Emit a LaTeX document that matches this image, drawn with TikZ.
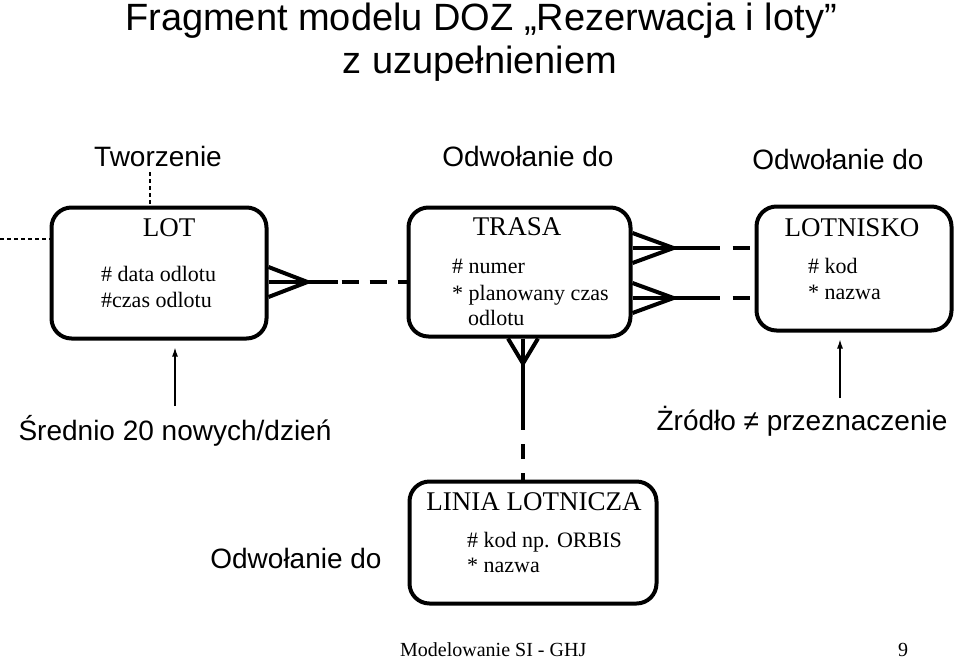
\documentclass[tikz,border=0pt]{standalone}
\usepackage{fontspec}
\setmainfont{Liberation Serif}
\newfontfamily\labfont{Liberation Sans}
\usetikzlibrary{calc,arrows.meta}
\begin{document}
\begin{tikzpicture}[x=1pt,y=-1pt,
  ent/.style={draw, line width=4pt, rounded corners=20pt, inner sep=0pt},
  conn/.style={line width=4pt},
  enttitle/.style={anchor=base, inner sep=0pt, font=\fontsize{27}{27}\selectfont},
  attr/.style={anchor=base west, inner sep=0pt, font=\fontsize{22}{22}\selectfont},
  lab/.style={anchor=base, inner sep=0pt, font=\labfont\fontsize{28}{28}\selectfont},
  note/.style={line width=1.2pt, -{Latex[length=9pt,width=6pt]}},
  thindash/.style={line width=1.2pt, dash pattern=on 4pt off 3pt}]
\useasboundingbox (0,0) rectangle (960,662);

% titles
\node[anchor=base, inner sep=0pt, font=\labfont\fontsize{38}{38}\selectfont] (t1) at (481,30) {Fragment modelu DOZ „Rezerwacja i loty”};
\node[anchor=base, inner sep=0pt, font=\labfont\fontsize{38}{38}\selectfont] (t2) at (480,73) {z uzupełnieniem};

% entities
\node[ent, minimum width=215pt, minimum height=131pt] (lot) at (159,273) {};
\node[ent, minimum width=222pt, minimum height=129pt] (trasa) at (519.5,272) {};
\node[ent, minimum width=195pt, minimum height=124pt] (lotnisko) at (854,268.5) {};
\node[ent, minimum width=247pt, minimum height=122pt] (linia) at (533,542.5) {};

% entity texts
\node[enttitle] (lotT) at (169,236) {LOT};
\node[attr] (lotA1) at (101,281) {\# data odlotu};
\node[attr] (lotA2) at (101,307) {\#czas odlotu};

\node[enttitle] (trT) at (517,235) {TRASA};
\node[attr] (trA1) at (452,273) {\# numer};
\node[attr] (trA2) at (452,300) {* planowany czas};
\node[attr] (trA3) at (468,325) {odlotu};

\node[enttitle] (lnT) at (852,236) {LOTNISKO};
\node[attr] (lnA1) at (808,273) {\# kod};
\node[attr] (lnA2) at (808,299) {* nazwa};

\node[enttitle] (liT) at (534,510) {LINIA LOTNICZA};
\node[attr] (liA1) at (467,547) {\# kod np. ORBIS};
\node[attr] (liA2) at (467,572) {* nazwa};

% labels
\node[lab] (tw) at (158,166) {Tworzenie};
\node[lab] (od1) at (528,166) {Odwołanie do};
\node[lab] (od2) at (838,169) {Odwołanie do};
\node[lab] (sr) at (175,440) {Średnio 20 nowych/dzień};
\node[lab] (zr) at (802,430) {Żródło ≠ przeznaczenie};
\node[lab] (od3) at (296,568) {Odwołanie do};

% footer
\node[anchor=base west, inner sep=0pt, font=\fontsize{20}{20}\selectfont] (foot) at (400,656) {Modelowanie SI - GHJ};
\node[anchor=base, inner sep=0pt, font=\fontsize{20}{20}\selectfont] (page) at (903,656) {9};

% thin dashed lines at LOT
\coordinate (twx) at (150,172);
\draw[thindash] (twx) -- (twx |- lot.north);
\coordinate (lx) at (0,239);
\draw[thindash] (lx) -- (lx -| lot.west);

% note arrows
\coordinate (n1) at (175,406);
\draw[note] (n1) -- ($(n1 |- lot.south)+(0,7)$);
\coordinate (n2) at (840,398);
\draw[note] (n2) -- ($(n2 |- lotnisko.south)+(0,7)$);

% LOT - TRASA
\coordinate (y1) at (0,282);
\coordinate (a1) at (lot.east |- y1);
\coordinate (b1) at (trasa.west |- y1);
\coordinate (k1) at ($(a1)+(39,0)$);
\draw[conn] (a1) -- (k1);
\draw[conn] ($(a1)+(0,-15)$) -- (k1) -- ($(a1)+(0,15)$);
\coordinate (m1) at ($(a1)!0.5!(b1)$);
\draw[conn] (k1) -- (m1);
\draw[conn, dash pattern=on 17pt off 11pt, dash phase=24pt] (m1) -- (b1);

% TRASA - LOTNISKO (two)
\foreach \yy/\nm in {248/u, 298/d}{
  \coordinate (a\nm) at (trasa.east |- 0,\yy);
  \coordinate (b\nm) at (lotnisko.west |- 0,\yy);
  \coordinate (k\nm) at ($(a\nm)+(41,0)$);
  \draw[conn] (a\nm) -- (k\nm);
  \draw[conn] ($(a\nm)+(0,-15)$) -- (k\nm) -- ($(a\nm)+(0,15)$);
  \coordinate (m\nm) at ($(a\nm)!0.715!(b\nm)$);
  \draw[conn] (k\nm) -- (m\nm);
  \draw[conn, dash pattern=on 17pt off 13pt, dash phase=17pt] (m\nm) -- (b\nm);
}

% TRASA - LINIA LOTNICZA
\coordinate (xv) at (523,0);
\coordinate (av) at (trasa.south -| xv);
\coordinate (bv) at (linia.north -| xv);
\coordinate (kv) at ($(av)+(0,25)$);
\draw[conn] (av) -- (kv);
\draw[conn] ($(av)+(-15,0)$) -- (kv) -- ($(av)+(15,0)$);
\coordinate (mv) at ($(av)!0.65!(bv)$);
\draw[conn] (kv) -- (mv);
\draw[conn, dash pattern=on 15pt off 14pt, dash phase=15pt] (mv) -- (bv);
\end{tikzpicture}
\end{document}
